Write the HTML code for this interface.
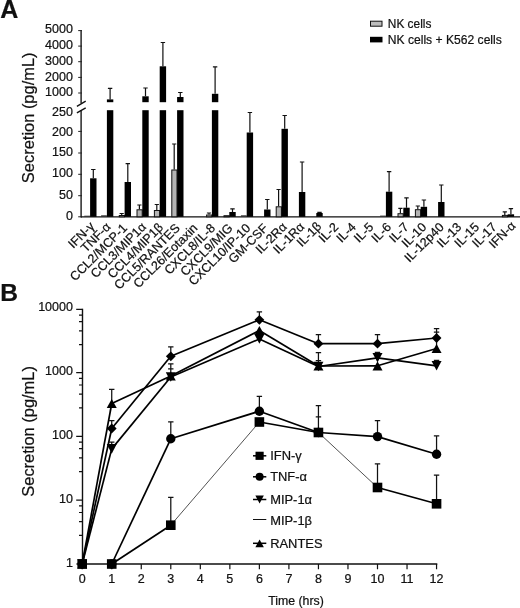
<!DOCTYPE html><html><head><meta charset="utf-8"><style>html,body{margin:0;padding:0;background:#fff}svg{display:block;filter:grayscale(1)}text{font-family:"Liberation Sans",sans-serif;fill:#111;stroke:#111;stroke-width:0.22px}</style></head><body>
<svg width="520" height="608" viewBox="0 0 520 608">
<rect width="520" height="608" fill="#fff"/>
<text x="0.2" y="17.5" font-size="25" font-weight="bold">A</text>
<path d="M81.1 30.2V103.2M81.1 110V217.5" stroke="#111" stroke-width="1.35" fill="none"/>
<path d="M81.1 216.9H520" stroke="#111" stroke-width="1.4" fill="none"/>
<path d="M76.9 106.3L85.7 101.2M76.9 112.9L85.7 107.8" stroke="#111" stroke-width="1.4" fill="none"/>
<path d="M78.19999999999999 30.6H82.0M78.19999999999999 46.1H82.0M78.19999999999999 61.7H82.0M78.19999999999999 77.4H82.0M78.19999999999999 93H82.0M78.19999999999999 131.4H82.0M78.19999999999999 153H82.0M78.19999999999999 174.3H82.0M78.19999999999999 195.7H82.0M78.19999999999999 216.8H82.0" stroke="#222" stroke-width="1" fill="none"/>
<text x="72.9" y="33.20" font-size="12.5" text-anchor="end">5000</text>
<text x="72.9" y="48.95" font-size="12.5" text-anchor="end">4000</text>
<text x="72.9" y="64.65" font-size="12.5" text-anchor="end">3000</text>
<text x="72.9" y="80.55" font-size="12.5" text-anchor="end">2000</text>
<text x="72.9" y="96.45" font-size="12.5" text-anchor="end">1000</text>
<text x="72.9" y="116.45" font-size="12.5" text-anchor="end">250</text>
<text x="72.9" y="135.55" font-size="12.5" text-anchor="end">200</text>
<text x="72.9" y="156.25" font-size="12.5" text-anchor="end">150</text>
<text x="72.9" y="177.05" font-size="12.5" text-anchor="end">100</text>
<text x="72.9" y="198.55" font-size="12.5" text-anchor="end">50</text>
<text x="72.9" y="220.35" font-size="12.5" text-anchor="end">0</text>
<text transform="translate(34,117.8) rotate(-90)" font-size="16.45" text-anchor="middle">Secretion (pg/mL)</text>
<rect x="370.5" y="21.2" width="11.5" height="5" fill="#bdbdbd" stroke="#111" stroke-width="1"/>
<rect x="370" y="36.8" width="12.5" height="5.6" fill="#000"/>
<text x="387.8" y="28.3" font-size="12.5" textLength="43.6" lengthAdjust="spacingAndGlyphs">NK cells</text>
<text x="387.8" y="43.6" font-size="12.5" textLength="114" lengthAdjust="spacingAndGlyphs">NK cells + K562 cells</text>
<rect x="84.30" y="215.70" width="5.80" height="1.10" fill="#333"/>
<rect x="90.10" y="178.30" width="6.4" height="38.50" fill="#000"/>
<rect x="101.10" y="215.30" width="5.80" height="1.50" fill="#333"/>
<rect x="106.90" y="99.40" width="6.4" height="2.80" fill="#000"/>
<rect x="106.90" y="110.2" width="6.4" height="106.60" fill="#000"/>
<rect x="119.30" y="215.50" width="5.20" height="1.30" fill="#b4b4b4" stroke="#111" stroke-width="1"/>
<rect x="124.60" y="182.00" width="6.4" height="34.80" fill="#000"/>
<rect x="137.00" y="209.80" width="5.20" height="7.00" fill="#b4b4b4" stroke="#111" stroke-width="1"/>
<rect x="142.30" y="96.30" width="6.4" height="5.90" fill="#000"/>
<rect x="142.30" y="110.2" width="6.4" height="106.60" fill="#000"/>
<rect x="154.40" y="210.50" width="5.20" height="6.30" fill="#b4b4b4" stroke="#111" stroke-width="1"/>
<rect x="159.70" y="66.30" width="6.4" height="35.90" fill="#000"/>
<rect x="159.70" y="110.2" width="6.4" height="106.60" fill="#000"/>
<rect x="171.80" y="170.00" width="5.20" height="46.80" fill="#b4b4b4" stroke="#111" stroke-width="1"/>
<rect x="177.10" y="97.00" width="6.4" height="5.20" fill="#000"/>
<rect x="177.10" y="110.2" width="6.4" height="106.60" fill="#000"/>
<rect x="206.60" y="215.00" width="5.20" height="1.80" fill="#b4b4b4" stroke="#111" stroke-width="1"/>
<rect x="211.90" y="93.80" width="6.4" height="8.40" fill="#000"/>
<rect x="211.90" y="110.2" width="6.4" height="106.60" fill="#000"/>
<rect x="224.00" y="215.70" width="5.20" height="1.10" fill="#b4b4b4" stroke="#111" stroke-width="1"/>
<rect x="229.30" y="212.00" width="6.4" height="4.80" fill="#000"/>
<rect x="240.90" y="215.30" width="5.80" height="1.50" fill="#333"/>
<rect x="246.70" y="132.50" width="6.4" height="84.30" fill="#000"/>
<rect x="264.10" y="209.50" width="6.4" height="7.30" fill="#000"/>
<rect x="276.20" y="206.80" width="5.20" height="10.00" fill="#b4b4b4" stroke="#111" stroke-width="1"/>
<rect x="281.50" y="128.80" width="6.4" height="88.00" fill="#000"/>
<rect x="298.90" y="192.00" width="6.4" height="24.80" fill="#000"/>
<rect x="316.30" y="213.00" width="6.4" height="3.80" fill="#000"/>
<rect x="380.10" y="215.60" width="5.80" height="1.20" fill="#333"/>
<rect x="385.90" y="191.70" width="6.4" height="25.10" fill="#000"/>
<rect x="398.00" y="213.70" width="5.20" height="3.10" fill="#b4b4b4" stroke="#111" stroke-width="1"/>
<rect x="403.30" y="207.70" width="6.4" height="9.10" fill="#000"/>
<rect x="415.40" y="209.70" width="5.20" height="7.10" fill="#b4b4b4" stroke="#111" stroke-width="1"/>
<rect x="420.70" y="206.80" width="6.4" height="10.00" fill="#000"/>
<rect x="438.10" y="202.00" width="6.4" height="14.80" fill="#000"/>
<rect x="502.40" y="215.40" width="5.20" height="1.40" fill="#b4b4b4" stroke="#111" stroke-width="1"/>
<rect x="507.70" y="214.30" width="6.4" height="2.50" fill="#000"/>
<path d="M93.30 178.3V169.5M91.10 169.5H95.50M110.10 99.4V88.3M107.90 88.3H112.30M121.70 215V213.5M119.60 213.5H123.80M127.80 182V163.6M125.60 163.6H130.00M139.40 209.3V205M137.30 205H141.50M145.50 96.3V88M143.30 88H147.70M156.80 210V204.5M154.70 204.5H158.90M162.90 66.3V42.5M160.70 42.5H165.10M174.20 169.5V144M172.10 144H176.30M180.30 97V92.5M178.10 92.5H182.50M209.00 214.5V213M206.90 213H211.10M215.10 93.8V66.8M212.90 66.8H217.30M232.50 212V208.8M230.30 208.8H234.70M249.90 132.5V112.5M247.70 112.5H252.10M267.30 209.5V199.5M265.10 199.5H269.50M278.60 206.3V189.5M276.50 189.5H280.70M284.70 128.8V115.5M282.50 115.5H286.90M302.10 192V162M299.90 162H304.30M319.50 213V212.4M317.30 212.4H321.70M389.10 191.7V171.7M386.90 171.7H391.30M400.40 213.2V208.3M398.30 208.3H402.50M406.50 207.7V197.8M404.30 197.8H408.70M417.80 209.2V206M415.70 206H419.90M423.90 206.8V200M421.70 200H426.10M441.30 202V185M439.10 185H443.50M504.80 214.9V211.8M502.70 211.8H506.90M510.90 214.3V208.6M508.70 208.6H513.10" stroke="#111" stroke-width="1.2" fill="none"/>
<text transform="translate(92.30,224.30296) rotate(-45)" font-size="12.6" text-anchor="end" dy="4">IFN-γ</text>
<text transform="translate(108.67,224.72722) rotate(-45)" font-size="12.6" text-anchor="end" dy="4">TNF-α</text>
<text transform="translate(125.10,226.0) rotate(-45)" font-size="12.6" text-anchor="end" dy="4">CCL2/MCP-1</text>
<text transform="translate(144.07,224.72722) rotate(-45)" font-size="12.6" text-anchor="end" dy="4">CCL3/MIP1α</text>
<text transform="translate(161.01,225.2929) rotate(-45)" font-size="12.6" text-anchor="end" dy="4">CCL4/MIP1β</text>
<text transform="translate(177.90,226.0) rotate(-45)" font-size="12.6" text-anchor="end" dy="4">CCL5/RANTES</text>
<text transform="translate(195.50,226.0) rotate(-45)" font-size="12.6" text-anchor="end" dy="4">CCL26/Eotaxin</text>
<text transform="translate(213.10,226.0) rotate(-45)" font-size="12.6" text-anchor="end" dy="4">CXCL8/IL-8</text>
<text transform="translate(230.70,226.0) rotate(-45)" font-size="12.6" text-anchor="end" dy="4">CXCL9/MIG</text>
<text transform="translate(248.30,226.0) rotate(-45)" font-size="12.6" text-anchor="end" dy="4">CXCL10/IP-10</text>
<text transform="translate(265.90,226.0) rotate(-45)" font-size="12.6" text-anchor="end" dy="4">GM-CSF</text>
<text transform="translate(284.77,224.72722) rotate(-45)" font-size="12.6" text-anchor="end" dy="4">IL-2Rα</text>
<text transform="translate(302.37,224.72722) rotate(-45)" font-size="12.6" text-anchor="end" dy="4">IL-1Rα</text>
<text transform="translate(319.41,224.2929) rotate(-45)" font-size="12.6" text-anchor="end" dy="4">IL-1β</text>
<text transform="translate(336.30,225.0) rotate(-45)" font-size="12.6" text-anchor="end" dy="4">IL-2</text>
<text transform="translate(353.90,225.0) rotate(-45)" font-size="12.6" text-anchor="end" dy="4">IL-4</text>
<text transform="translate(371.50,225.0) rotate(-45)" font-size="12.6" text-anchor="end" dy="4">IL-5</text>
<text transform="translate(389.10,225.0) rotate(-45)" font-size="12.6" text-anchor="end" dy="4">IL-6</text>
<text transform="translate(406.70,225.0) rotate(-45)" font-size="12.6" text-anchor="end" dy="4">IL-7</text>
<text transform="translate(424.30,225.0) rotate(-45)" font-size="12.6" text-anchor="end" dy="4">IL-10</text>
<text transform="translate(441.90,225.0) rotate(-45)" font-size="12.6" text-anchor="end" dy="4">IL-12p40</text>
<text transform="translate(459.50,225.0) rotate(-45)" font-size="12.6" text-anchor="end" dy="4">IL-13</text>
<text transform="translate(477.10,225.0) rotate(-45)" font-size="12.6" text-anchor="end" dy="4">IL-15</text>
<text transform="translate(494.70,225.0) rotate(-45)" font-size="12.6" text-anchor="end" dy="4">IL-17</text>
<text transform="translate(513.57,223.72722) rotate(-45)" font-size="12.6" text-anchor="end" dy="4">IFN-α</text>
<text x="0.3" y="300.9" font-size="24.6" font-weight="bold">B</text>
<path d="M82.5 308.7V564H437.3" stroke="#111" stroke-width="1.4" fill="none"/>
<path d="M76.2 309.3H82.5M76.2 372.6H82.5M76.2 436.3H82.5M76.2 500.1H82.5M76.2 564H82.5M79.0 315.1H82.5M79.0 321.7H82.5M79.0 330.90000000000003H82.5M79.0 344.6H82.5M79.0 378.40000000000003H82.5M79.0 385.0H82.5M79.0 394.20000000000005H82.5M79.0 407.90000000000003H82.5M79.0 442.1H82.5M79.0 448.7H82.5M79.0 457.90000000000003H82.5M79.0 471.6H82.5M79.0 505.90000000000003H82.5M79.0 512.5H82.5M79.0 521.7H82.5M79.0 535.4H82.5M82.20 564V569.2M111.73 564V569.2M141.26 564V569.2M170.79 564V569.2M200.32 564V569.2M229.85 564V569.2M259.38 564V569.2M288.91 564V569.2M318.44 564V569.2M347.97 564V569.2M377.50 564V569.2M407.03 564V569.2M436.56 564V569.2" stroke="#111" stroke-width="1.2" fill="none"/>
<text x="72.9" y="311.25" font-size="12.5" text-anchor="end">10000</text>
<text x="72.9" y="375.35" font-size="12.5" text-anchor="end">1000</text>
<text x="72.9" y="438.55" font-size="12.5" text-anchor="end">100</text>
<text x="72.9" y="502.55" font-size="12.5" text-anchor="end">10</text>
<text x="72.9" y="566.75" font-size="12.5" text-anchor="end">1</text>
<text x="82.20" y="583.1" font-size="12.5" text-anchor="middle">0</text>
<text x="111.73" y="583.1" font-size="12.5" text-anchor="middle">1</text>
<text x="141.26" y="583.1" font-size="12.5" text-anchor="middle">2</text>
<text x="170.79" y="583.1" font-size="12.5" text-anchor="middle">3</text>
<text x="200.32" y="583.1" font-size="12.5" text-anchor="middle">4</text>
<text x="229.85" y="583.1" font-size="12.5" text-anchor="middle">5</text>
<text x="259.38" y="583.1" font-size="12.5" text-anchor="middle">6</text>
<text x="288.91" y="583.1" font-size="12.5" text-anchor="middle">7</text>
<text x="318.44" y="583.1" font-size="12.5" text-anchor="middle">8</text>
<text x="347.97" y="583.1" font-size="12.5" text-anchor="middle">9</text>
<text x="377.50" y="583.1" font-size="12.5" text-anchor="middle">10</text>
<text x="407.03" y="583.1" font-size="12.5" text-anchor="middle">11</text>
<text x="436.56" y="583.1" font-size="12.5" text-anchor="middle">12</text>
<text x="296" y="604.7" font-size="12.3" text-anchor="middle">Time (hrs)</text>
<text transform="translate(34,431.4) rotate(-90)" font-size="16.45" text-anchor="middle">Secretion (pg/mL)</text>
<path d="M111.73 564L170.79 525.2" stroke="#000" stroke-width="1.7" fill="none"/>
<path d="M170.79 525.2L259.38 422" stroke="#333" stroke-width="0.85" fill="none"/>
<path d="M259.38 422L318.44 432.5" stroke="#000" stroke-width="1.7" fill="none"/>
<path d="M318.44 432.5L377.50 487.5" stroke="#333" stroke-width="0.85" fill="none"/>
<path d="M377.50 487.5L436.56 503.8" stroke="#000" stroke-width="1.7" fill="none"/>
<path d="M111.73 564L170.79 438.8" stroke="#000" stroke-width="1.7" fill="none"/>
<path d="M170.79 438.8L259.38 411.2" stroke="#000" stroke-width="1.7" fill="none"/>
<path d="M259.38 411.2L318.44 432.5" stroke="#000" stroke-width="1.7" fill="none"/>
<path d="M318.44 432.5L377.50 436.6" stroke="#000" stroke-width="1.7" fill="none"/>
<path d="M377.50 436.6L436.56 454.3" stroke="#000" stroke-width="1.7" fill="none"/>
<path d="M82.20 564L111.73 448.9" stroke="#000" stroke-width="1.7" fill="none"/>
<path d="M111.73 448.9L170.79 377" stroke="#000" stroke-width="1.7" fill="none"/>
<path d="M170.79 377L259.38 339" stroke="#000" stroke-width="1.7" fill="none"/>
<path d="M259.38 339L318.44 366.5" stroke="#000" stroke-width="1.7" fill="none"/>
<path d="M318.44 366.5L377.50 357.8" stroke="#000" stroke-width="1.7" fill="none"/>
<path d="M377.50 357.8L436.56 365.8" stroke="#000" stroke-width="1.7" fill="none"/>
<path d="M82.20 564L111.73 428.5" stroke="#000" stroke-width="1.7" fill="none"/>
<path d="M111.73 428.5L170.79 356.3" stroke="#000" stroke-width="1.7" fill="none"/>
<path d="M170.79 356.3L259.38 319.8" stroke="#000" stroke-width="1.7" fill="none"/>
<path d="M259.38 319.8L318.44 343.7" stroke="#000" stroke-width="1.7" fill="none"/>
<path d="M318.44 343.7L377.50 343.7" stroke="#000" stroke-width="1.7" fill="none"/>
<path d="M377.50 343.7L436.56 338" stroke="#000" stroke-width="1.7" fill="none"/>
<path d="M82.20 564L111.73 403.5" stroke="#000" stroke-width="1.7" fill="none"/>
<path d="M111.73 403.5L170.79 376" stroke="#000" stroke-width="1.7" fill="none"/>
<path d="M170.79 376L259.38 330.5" stroke="#000" stroke-width="1.7" fill="none"/>
<path d="M259.38 330.5L318.44 366" stroke="#000" stroke-width="1.7" fill="none"/>
<path d="M318.44 366L377.50 365.8" stroke="#000" stroke-width="1.7" fill="none"/>
<path d="M377.50 365.8L436.56 348.5" stroke="#000" stroke-width="1.7" fill="none"/>
<path d="M170.79 525.2V497.4M168.09 497.4H173.49M318.44 432.5V405.6M315.74 405.6H321.14M377.50 487.5V463.8M374.80 463.8H380.20M436.56 503.8V475M433.86 475H439.26M170.79 438.8V421.8M168.09 421.8H173.49M259.38 411.2V396.3M256.68 396.3H262.08M318.44 432.5V416.8M315.74 416.8H321.14M377.50 436.6V420.5M374.80 420.5H380.20M436.56 454.3V435.8M433.86 435.8H439.26M111.73 448.9V442.2M109.03 442.2H114.43M170.79 377V368.8M168.09 368.8H173.49M318.44 366.5V352.6M315.74 352.6H321.14M377.50 357.8V352.3M374.80 352.3H380.20M436.56 365.8V360.3M433.86 360.3H439.26M111.73 428.5V420.6M109.03 420.6H114.43M170.79 356.3V346.9M168.09 346.9H173.49M259.38 319.8V311.9M256.68 311.9H262.08M318.44 343.7V334.7M315.74 334.7H321.14M377.50 343.7V334.7M374.80 334.7H380.20M436.56 338V328.7M433.86 328.7H439.26M111.73 403.5V389.4M109.03 389.4H114.43M170.79 376V363.8M168.09 363.8H173.49M318.44 366V360.6M315.74 360.6H321.14M436.56 348.5V332M433.86 332H439.26" stroke="#111" stroke-width="1.25" fill="none"/>
<path d="M77.30 564.00L82.20 559.10L87.10 564.00L82.20 568.90Z" fill="#000"/>
<path d="M106.83 428.50L111.73 423.60L116.63 428.50L111.73 433.40Z" fill="#000"/>
<path d="M165.89 356.30L170.79 351.40L175.69 356.30L170.79 361.20Z" fill="#000"/>
<path d="M254.48 319.80L259.38 314.90L264.28 319.80L259.38 324.70Z" fill="#000"/>
<path d="M313.54 343.70L318.44 338.80L323.34 343.70L318.44 348.60Z" fill="#000"/>
<path d="M372.60 343.70L377.50 338.80L382.40 343.70L377.50 348.60Z" fill="#000"/>
<path d="M431.66 338.00L436.56 333.10L441.46 338.00L436.56 342.90Z" fill="#000"/>
<path d="M77.20 568.60H87.20L82.20 559.40Z" fill="#000"/>
<path d="M106.73 408.10H116.73L111.73 398.90Z" fill="#000"/>
<path d="M165.79 380.60H175.79L170.79 371.40Z" fill="#000"/>
<path d="M254.38 335.10H264.38L259.38 325.90Z" fill="#000"/>
<path d="M313.44 370.60H323.44L318.44 361.40Z" fill="#000"/>
<path d="M372.50 370.40H382.50L377.50 361.20Z" fill="#000"/>
<path d="M431.56 353.10H441.56L436.56 343.90Z" fill="#000"/>
<path d="M77.20 559.20H87.20L82.20 568.80Z" fill="#000"/>
<path d="M106.73 444.10H116.73L111.73 453.70Z" fill="#000"/>
<path d="M165.79 372.20H175.79L170.79 381.80Z" fill="#000"/>
<path d="M254.38 334.20H264.38L259.38 343.80Z" fill="#000"/>
<path d="M313.44 361.70H323.44L318.44 371.30Z" fill="#000"/>
<path d="M372.50 353.00H382.50L377.50 362.60Z" fill="#000"/>
<path d="M431.56 361.00H441.56L436.56 370.60Z" fill="#000"/>
<circle cx="82.20" cy="564.00" r="4.70" fill="#000"/>
<circle cx="111.73" cy="564.00" r="4.70" fill="#000"/>
<circle cx="170.79" cy="438.80" r="4.70" fill="#000"/>
<circle cx="259.38" cy="411.20" r="4.70" fill="#000"/>
<circle cx="318.44" cy="432.50" r="4.70" fill="#000"/>
<circle cx="377.50" cy="436.60" r="4.70" fill="#000"/>
<circle cx="436.56" cy="454.30" r="4.70" fill="#000"/>
<rect x="77.40" y="559.20" width="9.60" height="9.60" fill="#000"/>
<rect x="106.93" y="559.20" width="9.60" height="9.60" fill="#000"/>
<rect x="165.99" y="520.40" width="9.60" height="9.60" fill="#000"/>
<rect x="254.58" y="417.20" width="9.60" height="9.60" fill="#000"/>
<rect x="313.64" y="427.70" width="9.60" height="9.60" fill="#000"/>
<rect x="372.70" y="482.70" width="9.60" height="9.60" fill="#000"/>
<rect x="431.76" y="499.00" width="9.60" height="9.60" fill="#000"/>
<path d="M253 455.8H266.3" stroke="#000" stroke-width="1.5"/>
<rect x="255.52" y="451.72" width="8.16" height="8.16" fill="#000"/>
<text x="270.2" y="460.3" font-size="12.9">IFN-γ</text>
<path d="M253 476.8H266.3" stroke="#000" stroke-width="1.5"/>
<circle cx="259.60" cy="476.80" r="4.00" fill="#000"/>
<text x="270.2" y="481.3" font-size="12.9">TNF-α</text>
<path d="M253 499.5H266.3" stroke="#000" stroke-width="1.5"/>
<path d="M255.35 495.42H263.85L259.60 503.58Z" fill="#000"/>
<text x="270.2" y="504.0" font-size="12.9">MIP-1α</text>
<path d="M253 519.5H266.3" stroke="#111" stroke-width="1"/>
<text x="270.2" y="524.5" font-size="12.9">MIP-1β</text>
<path d="M253 543.3H266.3" stroke="#000" stroke-width="1.5"/>
<path d="M255.35 547.21H263.85L259.60 539.39Z" fill="#000"/>
<text x="270.2" y="547.8" font-size="12.9">RANTES</text>
</svg></body></html>
